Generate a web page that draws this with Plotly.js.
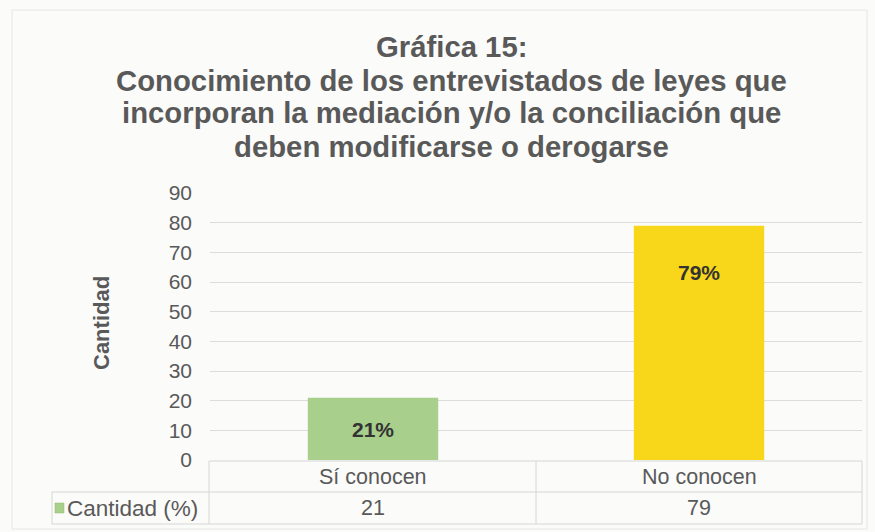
<!DOCTYPE html>
<html>
<head>
<meta charset="utf-8">
<script src="https://cdn.plot.ly/plotly-3.0.1.min.js"></script>
<style>
html,body{margin:0;padding:0;background:#fbfbfa;}
#chart{width:875px;height:532px;}
</style>
</head>
<body>
<div id="chart"></div>
<script>
// ---- data ----
const categories = ["Sí conocen", "No conocen"];
const values = [21, 79];
const seriesName = "Cantidad (%)";
const yTickValues = [0, 10, 20, 30, 40, 50, 60, 70, 80, 90];
const titleLines = ["Gráfica 15:", "Conocimiento de los entrevistados de leyes que", "incorporan la mediación y/o la conciliación que", "deben modificarse o derogarse"];
const yAxisTitle = "Cantidad";

// ---- styling / layout ----
const barColors = ["#a8d08c", "#f8d71a"];
const W = 875, H = 532;
const M = {l: 210, r: 13, t: 193, b: 72};
const plotW = W - M.l - M.r, plotH = H - M.t - M.b;
const px2x = p => (p - M.l) / plotW;
const py2y = p => (H - M.b - p) / plotH;
const labelYData = [10.2, 63.3]; // label positions inside bars
const gridCol = "#dcdcdc";
const txtCol = "#595959";
const font = "Liberation Sans, Arial, sans-serif";

const trace = {
  type: "bar",
  x: categories,
  y: values,
  name: seriesName,
  marker: {color: barColors},
  hoverinfo: "x+y"
};

const ann = (o) => Object.assign({showarrow: false, xanchor: "center", yanchor: "middle"}, o);
const annotations = [];
categories.forEach((c, i) => {
  // data labels
  annotations.push(ann({
    xref: "x", yref: "y", x: c, y: labelYData[i],
    text: "<b>" + values[i] + "%</b>",
    font: {family: font, size: 21, color: "#333333"}
  }));
  // table row 1: categories
  annotations.push(ann({
    xref: "x", yref: "paper", x: c, y: py2y(477),
    text: c,
    font: {family: font, size: 21.5, color: txtCol}
  }));
  // table row 2: values
  annotations.push(ann({
    xref: "x", yref: "paper", x: c, y: py2y(508),
    text: String(values[i]),
    font: {family: font, size: 21.5, color: txtCol}
  }));
});
// legend key text
annotations.push(ann({
  xref: "paper", yref: "paper", x: px2x(65), y: py2y(508),
  xanchor: "left", text: seriesName,
  font: {family: font, size: 22.5, color: txtCol}
}));
// y axis title
annotations.push(ann({
  xref: "paper", yref: "paper", x: px2x(101), y: py2y(323),
  text: "<b>" + yAxisTitle + "</b>", textangle: -90,
  font: {family: font, size: 22, color: txtCol}
}));
// title lines
const titleY = [46, 80, 113, 146];
titleLines.forEach((t, i) => {
  annotations.push(ann({
    xref: "paper", yref: "paper", x: px2x(451), y: py2y(titleY[i]),
    text: "<b>" + t + "</b>",
    font: {family: font, size: 29.3, color: txtCol}
  }));
});

const lineStyle = {color: "#d6d6d6", width: 1};
const hline = (x0, x1, y) => ({type: "line", xref: "paper", yref: "paper", x0: px2x(x0), x1: px2x(x1), y0: py2y(y), y1: py2y(y), line: lineStyle, layer: "above"});
const vline = (x, y0, y1) => ({type: "line", xref: "paper", yref: "paper", x0: px2x(x), x1: px2x(x), y0: py2y(y0), y1: py2y(y1), line: lineStyle, layer: "above"});

const shapes = [
  // outer chart border
  {type: "rect", xref: "paper", yref: "paper", x0: px2x(12), x1: px2x(867), y0: py2y(10), y1: py2y(529), line: {color: "#e6e6e6", width: 1}, layer: "below"},
  // table
  hline(209, 862, 461),
  hline(52, 862, 492),
  hline(52, 862, 524),
  vline(52, 492, 524),
  vline(209, 461, 524),
  vline(536, 461, 524),
  vline(862, 461, 524),
  // legend key
  {type: "rect", xref: "paper", yref: "paper", x0: px2x(55), x1: px2x(64), y0: py2y(503), y1: py2y(513), fillcolor: barColors[0], line: {color: "#8fb873", width: 0.5}}
];

const layout = {
  width: W, height: H,
  margin: M,
  paper_bgcolor: "#fbfbfa",
  plot_bgcolor: "#fbfbfa",
  showlegend: false,
  bargap: 0.6,
  font: {family: font, color: txtCol},
  xaxis: {showticklabels: false, showgrid: false, zeroline: false, showline: false, ticks: "", fixedrange: true},
  yaxis: {
    range: [0, 90], tickvals: yTickValues, showgrid: true, gridcolor: gridCol, gridwidth: 1,
    zeroline: false, showline: false, ticks: "", ticklabelstandoff: 17,
    tickfont: {family: font, size: 21, color: txtCol}, fixedrange: true
  },
  annotations: annotations,
  shapes: shapes
};

Plotly.newPlot("chart", [trace], layout, {displayModeBar: false, staticPlot: true});
</script>
</body>
</html>
